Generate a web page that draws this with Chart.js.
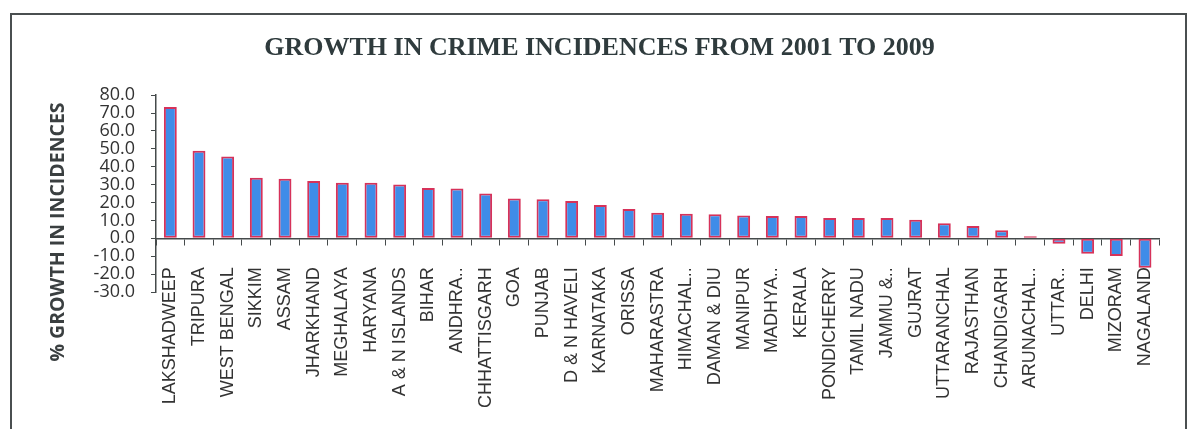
<!DOCTYPE html>
<html lang="en">
<head>
    <meta charset="UTF-8">
    <title>Growth in Crime Incidences 2001-2009</title>
    <script src="https://cdn.jsdelivr.net/npm/chart.js"></script>
    <style>
        body {
            margin: 0;
            background-color: #ffffff;
            width: 1190px;
            height: 429px;
            overflow: hidden;
            position: relative;
        }
        .frame {
            position: absolute;
            left: 10px;
            top: 13px;
            width: 1173px;
            height: 460px;
            border: 2px solid #4a4f50;
        }
        #crimeChart {
            position: absolute;
            left: 0;
            top: 0;
        }
    </style>
</head>
<body>
    <div class="frame"></div>
    <canvas id="crimeChart" width="1190" height="429"></canvas>

    <script>
        // States / UTs, sorted by growth
        const states = [
            'LAKSHADWEEP', 'TRIPURA', 'WEST BENGAL', 'SIKKIM', 'ASSAM', 'JHARKHAND',
            'MEGHALAYA', 'HARYANA', 'A & N ISLANDS', 'BIHAR', 'ANDHRA..', 'CHHATTISGARH',
            'GOA', 'PUNJAB', 'D & N HAVELI', 'KARNATAKA', 'ORISSA', 'MAHARASTRA',
            'HIMACHAL..', 'DAMAN & DIU', 'MANIPUR', 'MADHYA..', 'KERALA', 'PONDICHERRY',
            'TAMIL NADU', 'JAMMU &..', 'GUJRAT', 'UTTARANCHAL', 'RAJASTHAN', 'CHANDIGARH',
            'ARUNACHAL..', 'UTTAR..', 'DELHI', 'MIZORAM', 'NAGALAND'
        ];

        // % growth in incidences 2001 -> 2009
        const growth = [
            73.4, 49.0, 45.8, 33.9, 33.3, 32.0,
            31.1, 31.1, 30.1, 28.1, 27.9, 25.1,
            22.2, 21.8, 20.8, 18.6, 16.4, 14.3,
            13.8, 13.4, 12.7, 12.5, 12.5, 11.4,
            11.4, 11.4, 10.4, 8.4, 6.9, 4.5,
            1.1, -3.0, -8.6, -9.9, -16.5
        ];

        const yMin = -30;
        const yMax = 80;
        const yStep = 10;

        const chartTitle = 'GROWTH IN CRIME INCIDENCES FROM 2001 TO 2009';
        const yTitle = '% GROWTH IN INCIDENCES';

        const axisColor = '#454a4b';
        const textColor = '#333333';

        // y axis title sits lower than the scale centre, so draw it by hand
        const yTitlePlugin = {
            id: 'yTitle',
            afterDraw(chart) {
                const ctx = chart.ctx;
                ctx.save();
                ctx.translate(58, 232);
                ctx.rotate(-Math.PI / 2);
                ctx.font = 'bold 19.5px "Open Sans"';
                ctx.fillStyle = '#3a3f40';
                ctx.textAlign = 'center';
                ctx.textBaseline = 'middle';
                ctx.fillText(yTitle, 0, 0);
                ctx.restore();
            }
        };

        new Chart(document.getElementById('crimeChart'), {
            type: 'bar',
            data: {
                labels: states,
                datasets: [{
                    data: growth,
                    backgroundColor: '#3f8ce8',
                    borderColor: '#d6325a',
                    borderWidth: 2,
                    borderSkipped: false,
                    barPercentage: 0.45,
                    categoryPercentage: 1.0
                }]
            },
            options: {
                responsive: false,
                animation: false,
                layout: {
                    padding: { left: 38, right: 29, top: 0, bottom: 137 }
                },
                plugins: {
                    legend: { display: false },
                    tooltip: { enabled: false },
                    title: {
                        display: true,
                        text: chartTitle,
                        color: '#2f3b3d',
                        font: { family: '"Liberation Serif"', size: 26, weight: 'bold' },
                        padding: { top: 33, bottom: 31 }
                    }
                },
                scales: {
                    x: {
                        position: { y: 0 },
                        z: 1,
                        grid: {
                            display: true,
                            offset: true,
                            drawOnChartArea: false,
                            drawTicks: true,
                            tickLength: 6,
                            color: axisColor
                        },
                        border: { display: true, color: axisColor, width: 1.5 },
                        ticks: {
                            autoSkip: false,
                            minRotation: 90,
                            maxRotation: 90,
                            padding: 23,
                            color: textColor,
                            font: { family: '"Liberation Sans"', size: 18 }
                        }
                    },
                    y: {
                        min: yMin,
                        max: yMax,
                        afterFit(scale) { scale.width = 118; },
                        grid: {
                            display: true,
                            drawOnChartArea: false,
                            drawTicks: true,
                            tickLength: 5,
                            color: axisColor
                        },
                        border: { display: true, color: axisColor, width: 1.5 },
                        ticks: {
                            autoSkip: false,
                            stepSize: yStep,
                            padding: 16,
                            color: textColor,
                            font: { family: '"Open Sans"', size: 18 },
                            callback: value => value.toFixed(1)
                        }
                    }
                }
            },
            plugins: [yTitlePlugin]
        });
    </script>
</body>
</html>
